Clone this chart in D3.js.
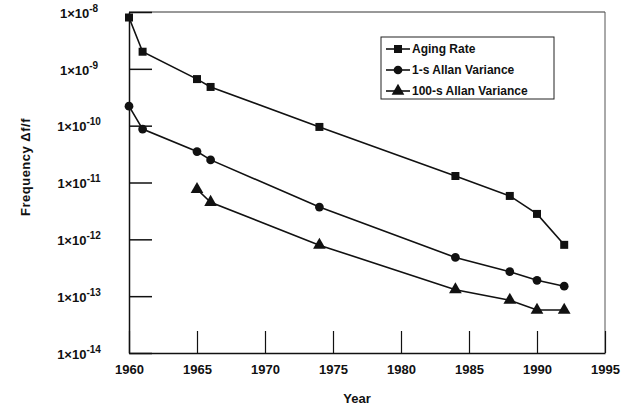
<!DOCTYPE html>
<meta charset="utf-8">
<style>
  body { margin: 0; background: #fff; }
  svg text { font-family: "Liberation Sans", Arial, sans-serif; fill: #111; }
</style>
<body>
<div id="chart"></div>
<script src="https://d3js.org/d3.v7.min.js"></script>
<script>

var years = [1960, 1961, 1965, 1966, 1974, 1984, 1988, 1990, 1992];
var agingRate = [8e-9, 2e-9, 6.6e-10, 4.8e-10, 9.5e-11, 1.3e-11, 5.8e-12, 2.8e-12, 8e-13];
var allan1s = [2.2e-10, 8.7e-11, 3.5e-11, 2.5e-11, 3.7e-12, 4.8e-13, 2.7e-13, 1.9e-13, 1.5e-13];
var years100 = [1965, 1966, 1974, 1984, 1988, 1990, 1992];
var allan100s = [7.6e-12, 4.5e-12, 7.9e-13, 1.3e-13, 8.5e-14, 5.7e-14, 5.7e-14];
var xTicks = [1960, 1965, 1970, 1975, 1980, 1985, 1990, 1995];
var yExps = [-14, -13, -12, -11, -10, -9, -8];
var seriesNames = ["Aging Rate", "1-s Allan Variance", "100-s Allan Variance"];

var w = 638, h = 410;
var plotLeft = 129, plotRight = 605, plotTop = 12, plotBottom = 353;

var svg = d3.select("#chart").append("svg")
    .attr("width", w)
    .attr("height", h);

var x = d3.scaleLinear().domain([1960, 1995]).range([plotLeft, plotRight]);
var y = d3.scaleLog().domain([1e-14, 1e-8]).range([plotBottom, plotTop]);

// frame (top and right are thinner, like the scan)
svg.append("line")
    .attr("x1", plotLeft).attr("x2", plotRight).attr("y1", plotTop).attr("y2", plotTop)
    .attr("stroke", "#333").attr("stroke-width", 1);
svg.append("line")
    .attr("x1", plotRight).attr("x2", plotRight).attr("y1", plotTop).attr("y2", plotBottom)
    .attr("stroke", "#555").attr("stroke-width", 1);

var xAxis = svg.append("g")
    .attr("transform", "translate(0," + plotBottom + ")")
    .call(d3.axisBottom(x).tickValues(xTicks).tickFormat(d3.format("d"))
        .tickSizeInner(-22).tickSizeOuter(0).tickPadding(12));
xAxis.select(".domain").attr("stroke", "#111").attr("stroke-width", 1.5);
xAxis.selectAll(".tick line").attr("stroke", "#111").attr("stroke-width", 1.2);
xAxis.selectAll("text")
    .attr("font-size", 13).attr("font-weight", "bold")
    .attr("font-family", "Liberation Sans, Arial, sans-serif").attr("fill", "#111");

var yAxis = svg.append("g")
    .attr("transform", "translate(" + plotLeft + ",0)")
    .call(d3.axisLeft(y).tickValues(yExps.map(function(e) { return Math.pow(10, e); }))
        .tickFormat("").tickSizeInner(-23).tickSizeOuter(0));
yAxis.select(".domain").attr("stroke", "#111").attr("stroke-width", 1.5);
yAxis.selectAll(".tick line").attr("stroke", "#111").attr("stroke-width", 1.5);
yAxis.selectAll(".tick text").each(function(d) {
    var t = d3.select(this);
    t.text(null)
        .attr("x", -50)
        .attr("dy", "0.4em")
        .attr("text-anchor", "middle")
        .attr("font-size", 13)
        .attr("font-weight", "bold")
        .attr("font-family", "Liberation Sans, Arial, sans-serif")
        .attr("fill", "#111");
    t.append("tspan").text("1\u00d710");
    t.append("tspan").text(Math.round(Math.log10(d)))
        .attr("font-size", 10).attr("dy", -6);
});

// axis titles
svg.append("text")
    .text("Year")
    .attr("x", (plotLeft + plotRight) / 2 - 10)
    .attr("y", 403)
    .attr("text-anchor", "middle")
    .attr("font-size", 13)
    .attr("font-weight", "bold");

svg.append("text")
    .text("Frequency  \u0394f/f")
    .attr("transform", "translate(30,167) rotate(-90)")
    .attr("text-anchor", "middle")
    .attr("font-size", 13)
    .attr("letter-spacing", 0.5)
    .attr("font-weight", "bold");

var line = d3.line()
    .x(function(d) { return x(d[0]); })
    .y(function(d) { return y(d[1]); });

var data = [
    d3.zip(years, agingRate),
    d3.zip(years, allan1s),
    d3.zip(years100, allan100s)
];
var shapes = [d3.symbolSquare, d3.symbolCircle, d3.symbolTriangle];
var sizes = [64, 60, 70];

data.forEach(function(pts, i) {
    svg.append("path")
        .datum(pts)
        .attr("d", line)
        .attr("fill", "none")
        .attr("stroke", "#111")
        .attr("stroke-width", 1.6);
    svg.selectAll(".m" + i)
        .data(pts)
        .enter()
        .append("path")
        .attr("class", "m" + i)
        .attr("d", d3.symbol().type(shapes[i]).size(sizes[i]))
        .attr("transform", function(d) { return "translate(" + x(d[0]) + "," + y(d[1]) + ")"; })
        .attr("fill", "#111");
});

// legend
var legend = svg.append("g");
legend.append("rect")
    .attr("x", 381).attr("y", 37)
    .attr("width", 173).attr("height", 62)
    .attr("fill", "#fff")
    .attr("stroke", "#222")
    .attr("stroke-width", 1);

seriesNames.forEach(function(name, i) {
    var ly = 49 + i * 21;
    legend.append("line")
        .attr("x1", 386).attr("x2", 410).attr("y1", ly).attr("y2", ly)
        .attr("stroke", "#111").attr("stroke-width", 1.6);
    legend.append("path")
        .attr("d", d3.symbol().type(shapes[i]).size(sizes[i]))
        .attr("transform", "translate(398," + ly + ")")
        .attr("fill", "#111");
    legend.append("text")
        .text(name)
        .attr("x", 412)
        .attr("y", ly)
        .attr("dy", "0.35em")
        .attr("font-size", 12)
        .attr("font-weight", "bold");
});
</script>
</body>
